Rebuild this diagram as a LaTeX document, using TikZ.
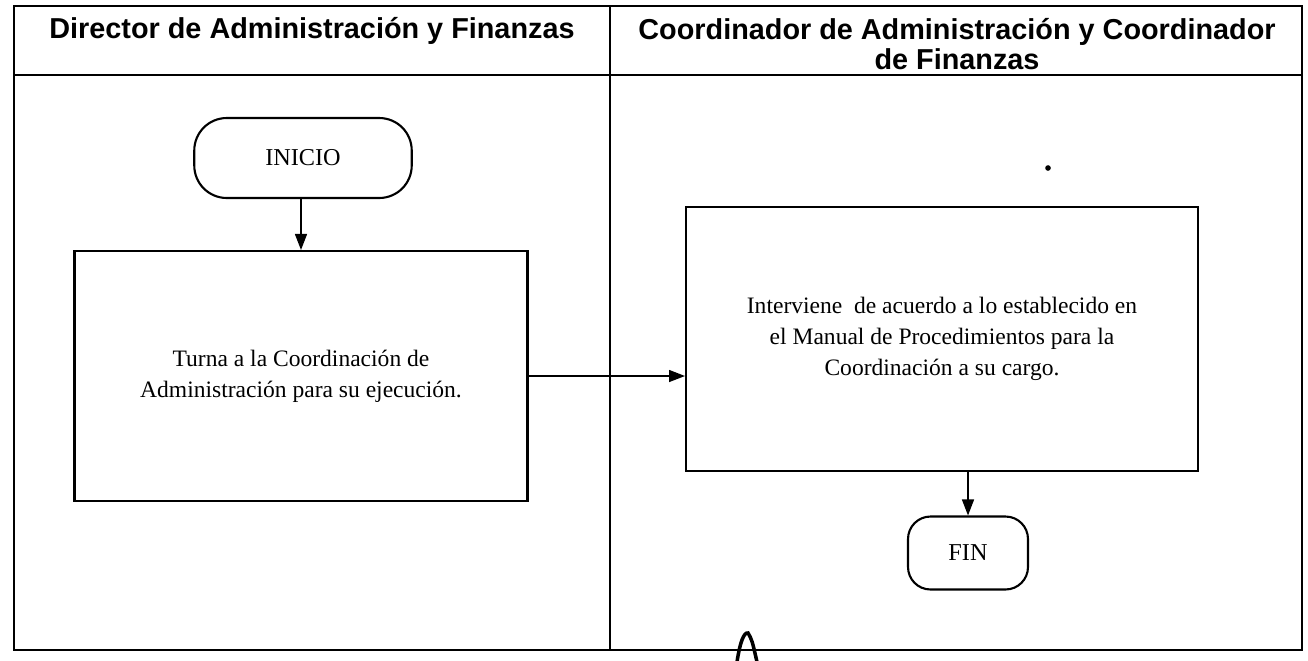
\documentclass[tikz,border=0pt]{standalone}
\usepackage{fontspec}
\setmainfont{Liberation Serif}
\newfontfamily\headfont{Liberation Sans}
\usetikzlibrary{arrows.meta, positioning}

\begin{document}
\begin{tikzpicture}[x=0.02cm, y=-0.02cm,
  lane/.style={line width=1.1pt},
  head/.style={font=\headfont\bfseries\fontsize{16.4}{17}\selectfont, align=center, inner sep=0pt},
  proc/.style={draw, line width=1.2pt, align=center, font=\fontsize{13.4}{17.5}\selectfont},
  term/.style={draw, line width=1.2pt, font=\fontsize{13.8}{15}\selectfont},
  flow/.style={-{Triangle[length=0.32cm, width=0.24cm]}, line width=0.8pt}
]
  \useasboundingbox (0,0) rectangle (1308,660);

  % swimlanes
  \draw[lane] (14,6) rectangle (1302,650);
  \draw[lane] (14,75) -- (1302,75);
  \draw[lane] (610,6) -- (610,650);

  \node[head] (hdir) at (312,31) {Director de Administración y Finanzas};
  \node[head] (hcoord) at (957,44) {Coordinador de Administración y Coordinador\\de Finanzas};

  % flow
  \node[term, rounded corners=0.65cm, minimum width=4.35cm, minimum height=1.6cm] (inicio) at (303,158) {INICIO};
  \node[proc, minimum width=9.06cm, minimum height=5cm] (turna) at (301,376)
    {Turna a la Coordinación de\\Administración para su ejecución.};
  \node[proc, minimum width=10.24cm, minimum height=5.28cm] (interv) at (942,339)
    {Interviene~ de acuerdo a lo establecido en\\el Manual de Procedimientos para la\\Coordinación a su cargo.};
  \node[term, rounded corners=0.45cm, minimum width=2.4cm, minimum height=1.46cm] (fin) at (968,553) {FIN};

  \draw[flow] (inicio.south -| turna.north) -- (turna.north);
  \draw[flow] (turna.east) -- (turna.east -| interv.west);
  \draw[flow] (fin.north |- interv.south) -- (fin.north);

  % marks on the scan
  \fill (1048,168) circle (1.6pt);
  \draw[line width=2pt] (737,662) .. controls (740,642) and (744,632) .. (748,633) .. controls (752,640) .. (757,662);
\end{tikzpicture}
\end{document}
